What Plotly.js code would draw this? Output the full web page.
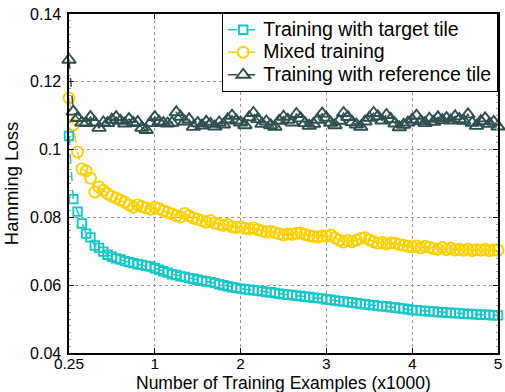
<!DOCTYPE html>
<html>
<head>
<meta charset="utf-8">
<script src="https://cdn.plot.ly/plotly-3.0.1.min.js"></script>
<style>html,body{margin:0;padding:0;background:#fff;}#chart{width:505px;height:392px;}</style>
</head>
<body>
<div id="chart"></div>
<script>
// x tick positions and labels (axis position in units; the first position is labelled 0.25)
const tickPositions = [0, 1, 2, 3, 4, 5];
const tickLabels = ['0.25', '1', '2', '3', '4', '5'];
const xTitle = 'Number of Training Examples (x1000)';
const yTitle = 'Hamming Loss';

const seriesNames = ['Training with target tile', 'Mixed training', 'Training with reference tile'];

const targetTile = [
  0.1040, 0.0854, 0.0817, 0.0782, 0.0752, 0.0741, 0.0717, 0.0710, 0.0699, 0.0690,
  0.0684, 0.0679, 0.0676, 0.0671, 0.0668, 0.0665, 0.0662, 0.0660, 0.0657, 0.0655,
  0.0650, 0.0646, 0.0641, 0.0637, 0.0632, 0.0630, 0.0626, 0.0624, 0.0621, 0.0619,
  0.0616, 0.0613, 0.0611, 0.0609, 0.0606, 0.0603, 0.0600, 0.0597, 0.0594, 0.0592,
  0.0590, 0.0588, 0.0587, 0.0585, 0.0584, 0.0582, 0.0580, 0.0579, 0.0577, 0.0575,
  0.0573, 0.0572, 0.0571, 0.0569, 0.0568, 0.0566, 0.0565, 0.0563, 0.0562, 0.0561,
  0.0558, 0.0557, 0.0555, 0.0553, 0.0552, 0.0550, 0.0549, 0.0547, 0.0545, 0.0544,
  0.0542, 0.0541, 0.0539, 0.0538, 0.0537, 0.0535, 0.0534, 0.0532, 0.0531, 0.0529,
  0.0527, 0.0526, 0.0525, 0.0524, 0.0523, 0.0522, 0.0521, 0.0520, 0.0519, 0.0518,
  0.0518, 0.0517, 0.0516, 0.0515, 0.0515, 0.0514, 0.0513, 0.0513, 0.0512, 0.0511,
  0.0511
];

const mixedTraining = [
  0.1152, 0.1073, 0.0993, 0.0943, 0.0937, 0.0916, 0.0875, 0.0890, 0.0880, 0.0870,
  0.0862, 0.0857, 0.0851, 0.0845, 0.0837, 0.0830, 0.0837, 0.0832, 0.0828, 0.0824,
  0.0830, 0.0826, 0.0819, 0.0815, 0.0810, 0.0805, 0.0801, 0.0812, 0.0805, 0.0798,
  0.0795, 0.0790, 0.0786, 0.0791, 0.0783, 0.0780, 0.0777, 0.0779, 0.0772, 0.0770,
  0.0772, 0.0768, 0.0766, 0.0769, 0.0764, 0.0760, 0.0757, 0.0759, 0.0755, 0.0752,
  0.0748, 0.0751, 0.0750, 0.0753, 0.0754, 0.0750, 0.0746, 0.0744, 0.0742, 0.0745,
  0.0745, 0.0748, 0.0740, 0.0733, 0.0727, 0.0732, 0.0728, 0.0733, 0.0738, 0.0740,
  0.0734, 0.0728, 0.0724, 0.0726, 0.0722, 0.0725, 0.0724, 0.0720, 0.0718, 0.0715,
  0.0713, 0.0716, 0.0710, 0.0715, 0.0712, 0.0708, 0.0706, 0.0711, 0.0705, 0.0709,
  0.0704, 0.0706, 0.0703, 0.0707, 0.0702, 0.0705, 0.0703, 0.0706, 0.0702, 0.0704,
  0.0703
];

const referenceTile = [
  0.1265, 0.1112, 0.1093, 0.1080, 0.1078, 0.1096, 0.1080, 0.1064, 0.1080, 0.1078,
  0.1088, 0.1096, 0.1085, 0.1077, 0.1090, 0.1078, 0.1081, 0.1064, 0.1058, 0.1078,
  0.1096, 0.1082, 0.1078, 0.1077, 0.1079, 0.1110, 0.1097, 0.1083, 0.1089, 0.1067,
  0.1078, 0.1071, 0.1082, 0.1076, 0.1068, 0.1080, 0.1074, 0.1089, 0.1100, 0.1086,
  0.1080, 0.1072, 0.1095, 0.1108, 0.1090, 0.1076, 0.1083, 0.1072, 0.1067, 0.1085,
  0.1097, 0.1088, 0.1080, 0.1105, 0.1092, 0.1078, 0.1070, 0.1076, 0.1088, 0.1106,
  0.1094, 0.1079, 0.1072, 0.1085, 0.1108, 0.1096, 0.1081, 0.1074, 0.1067, 0.1083,
  0.1094, 0.1108, 0.1098, 0.1086, 0.1102, 0.1090, 0.1077, 0.1066, 0.1073, 0.1080,
  0.1088, 0.1100, 0.1084, 0.1078, 0.1091, 0.1082, 0.1095, 0.1087, 0.1093, 0.1086,
  0.1098, 0.1090, 0.1085, 0.1104, 0.1079, 0.1070, 0.1084, 0.1092, 0.1076, 0.1082,
  0.1068
];

// axis positions: one sample every 0.05 units
const xPos = targetTile.map((_, i) => i * 0.05);

const colors = ['#14C8C8', '#FFD000', '#2F4F4F'];
const symbols = ['square-open', 'circle-open', 'triangle-up-open'];
const sizes = [8.5, 11, 12];
const allSeries = [targetTile, mixedTraining, referenceTile];

const traces = allSeries.map((ys, k) => ({
  type: 'scatter',
  mode: 'lines+markers',
  x: xPos,
  y: ys,
  name: '<span style="font-size:19.5px">' + seriesNames[k] + '</span>',
  cliponaxis: false,
  line: {color: colors[k], width: 1.5, dash: 'dash'},
  marker: {symbol: symbols[k], size: sizes[k], color: colors[k], line: {color: colors[k], width: 1.9}}
}));

const font = 'Liberation Sans, Arial, Helvetica, sans-serif';
const layout = {
  width: 505,
  height: 392,
  margin: {l: 69, r: 7, t: 14, b: 39},
  paper_bgcolor: '#fff',
  plot_bgcolor: '#fff',
  font: {family: font, size: 16, color: '#000'},
  showlegend: true,
  legend: {
    x: 1, xanchor: 'right', y: 1.005, yanchor: 'top',
    bgcolor: '#fff', bordercolor: '#000', borderwidth: 1.2,
    font: {family: font, size: 15, color: '#000'},
    tracegroupgap: 0, itemwidth: 30
  },
  xaxis: {
    range: [0, 5],
    tickvals: tickPositions,
    ticktext: tickLabels,
    ticks: 'inside', ticklen: 5, tickcolor: '#000',
    showline: true, linecolor: '#000', linewidth: 1.6, mirror: 'ticks',
    showgrid: true, gridcolor: '#999', griddash: 'dot', gridwidth: 1,
    zeroline: false,
    tickfont: {family: font, size: 15.5},
    ticklabelstandoff: -4
  },
  yaxis: {
    range: [0.04, 0.14],
    tickvals: [0.04, 0.06, 0.08, 0.1, 0.12, 0.14],
    ticktext: ['0.04', '0.06', '0.08', '0.1', '0.12', '0.14'],
    ticks: 'inside', ticklen: 5, tickcolor: '#000',
    showline: true, linecolor: '#000', linewidth: 1.6, mirror: 'ticks',
    showgrid: true, gridcolor: '#999', griddash: 'dot', gridwidth: 1,
    zeroline: false,
    tickfont: {family: font, size: 16},
    ticklabelstandoff: 3,
    minor: {dtick: 0.002, ticks: 'inside', ticklen: 2, tickcolor: '#999', showgrid: false},
    title: {text: yTitle, font: {family: font, size: 18.5}, standoff: 6}
  },
  annotations: [{
    text: xTitle, xref: 'paper', yref: 'paper', x: 0.5, y: -0.0895,
    xanchor: 'center', yanchor: 'middle', showarrow: false,
    font: {family: font, size: 17.5, color: '#000'}
  }]
};

Plotly.newPlot('chart', traces, layout, {staticPlot: true, displayModeBar: false});
</script>
</body>
</html>
